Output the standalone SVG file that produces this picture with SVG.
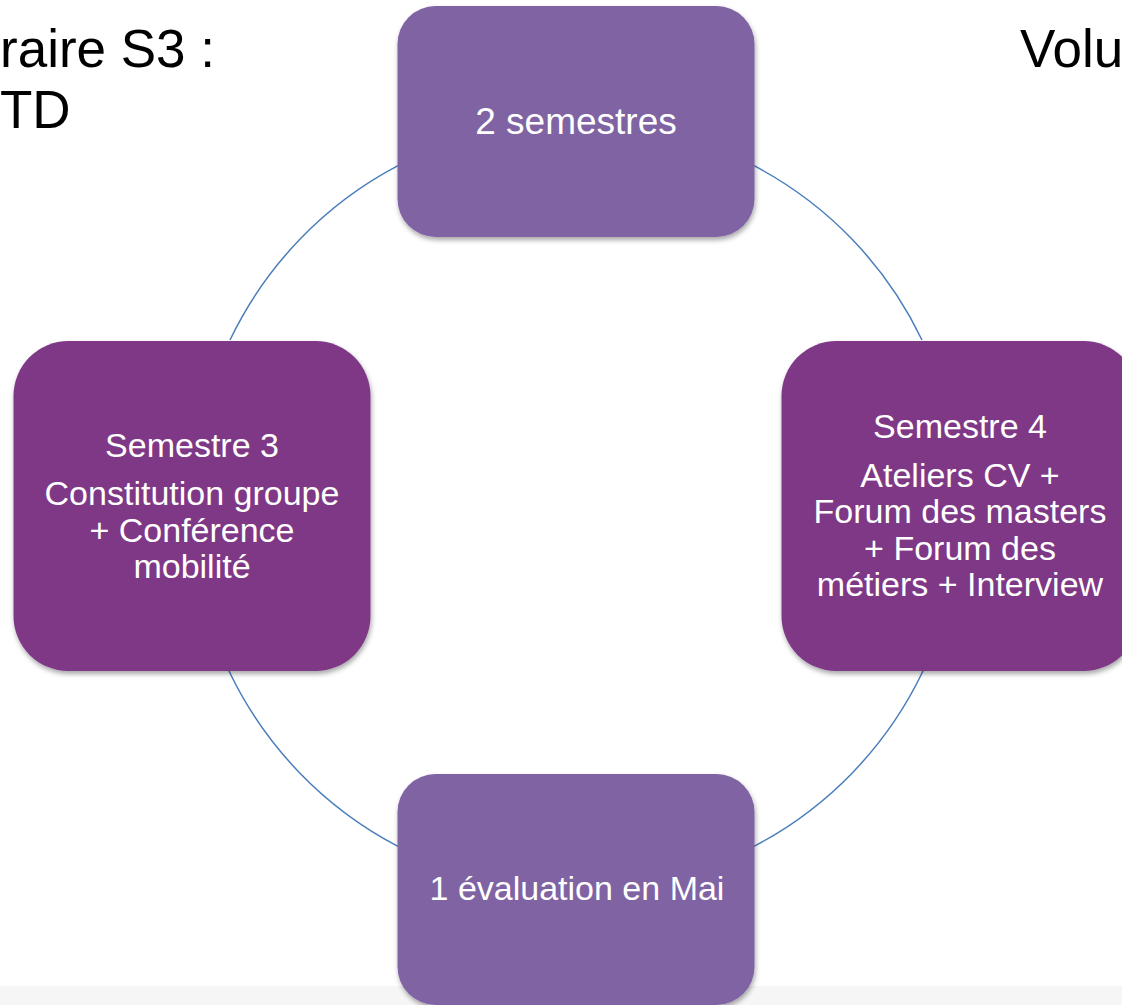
<svg xmlns="http://www.w3.org/2000/svg" width="1122" height="1005" viewBox="0 0 1122 1005">
<defs>
<filter id="sh" x="-10%" y="-10%" width="120%" height="125%">
<feDropShadow dx="1" dy="3" stdDeviation="2.5" flood-color="#000" flood-opacity="0.35"/>
</filter>
<style>
.t{font-family:"Liberation Sans",Arial,sans-serif;fill:#fff;text-anchor:middle;font-size:34px}
.h{font-family:"Liberation Sans",Arial,sans-serif;fill:#000;font-size:53px}
.light{fill:#7F64A3;filter:url(#sh)}
.dark{fill:#7E3886;filter:url(#sh)}
.arc{fill:none;stroke:#4A7EBB;stroke-width:1.5}
</style>
</defs>
<rect x="0" y="0" width="1122" height="1005" fill="#fff"/>
<rect x="0" y="986" width="1122" height="19" fill="#F6F6F6"/>
<text class="h" x="0" y="67">raire S3 :</text>
<text class="h" x="0" y="128">TD</text>
<text class="h" x="1020" y="67">Volu</text>
<g id="connectors">
<path class="arc" d="M754,165.7 A384,384 0 0 1 922,340"/>
<path class="arc" d="M923,671 A384,384 0 0 1 754,846.3"/>
<path class="arc" d="M398,846.3 A384,384 0 0 1 229,671"/>
<path class="arc" d="M230,340 A384,384 0 0 1 398,165.7"/>
</g>
<g id="node-top">
<rect class="light" x="397.5" y="6" width="357" height="231" rx="38"/>
<text class="t" x="576" y="134" style="font-size:37px">2 semestres</text>
</g>
<g id="node-right">
<rect class="dark" x="781.5" y="341" width="357" height="330" rx="55"/>
<text class="t" x="960" y="438">Semestre 4</text>
<text class="t" x="960" y="487">Ateliers CV +</text>
<text class="t" x="960" y="523">Forum des masters</text>
<text class="t" x="960" y="560">+ Forum des</text>
<text class="t" x="960" y="596">métiers + Interview</text>
</g>
<g id="node-bottom">
<rect class="light" x="397.5" y="774" width="357" height="231" rx="38"/>
<text class="t" x="577" y="900">1 évaluation en Mai</text>
</g>
<g id="node-left">
<rect class="dark" x="13.5" y="341" width="357" height="330" rx="55"/>
<text class="t" x="192" y="457">Semestre 3</text>
<text class="t" x="192" y="505">Constitution groupe</text>
<text class="t" x="192" y="542">+ Conférence</text>
<text class="t" x="192" y="578">mobilité</text>
</g>
</svg>
